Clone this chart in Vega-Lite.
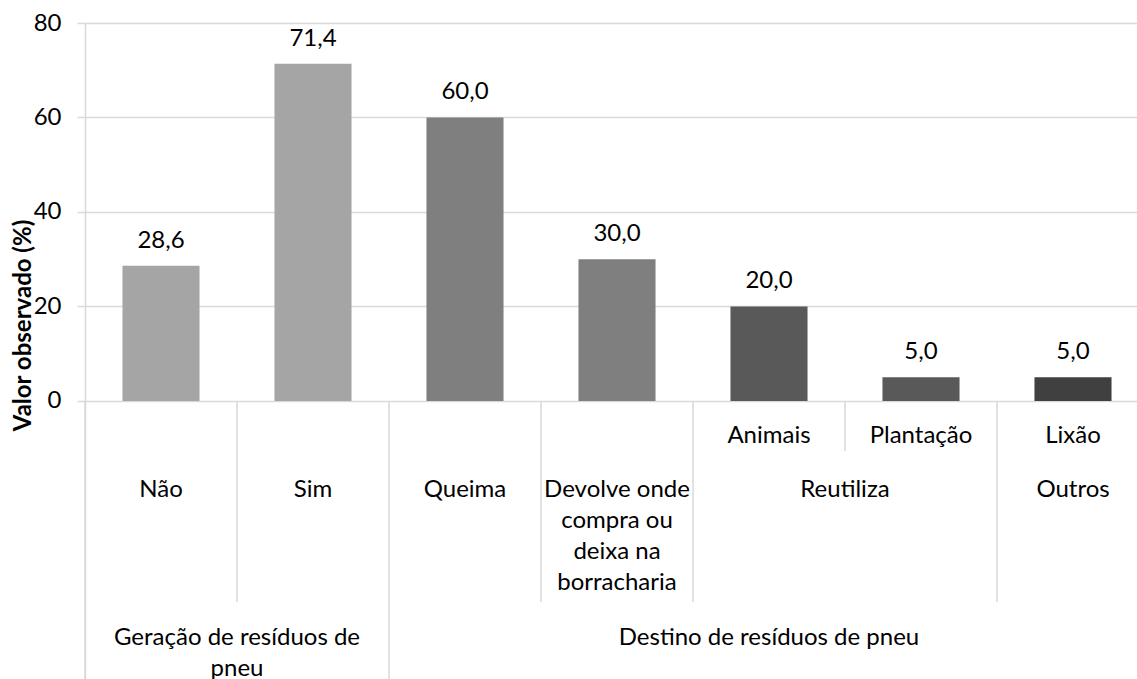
{
  "$schema": "https://vega.github.io/schema/vega-lite/v6.json",
  "width": 1052,
  "height": 656,
  "autosize": {"type": "none"},
  "padding": {"left": 85, "top": 23, "right": 0, "bottom": 0},
  "background": "white",
  "config": {
    "locale": {"number": {"decimal": ",", "thousands": ".", "grouping": [3], "currency": ["R$ ", ""]}},
    "view": {"stroke": null},
    "font": "Lato"
  },
  "datasets": {
    "valores": [
      {"cat": "Não", "valor": 28.6},
      {"cat": "Sim", "valor": 71.4},
      {"cat": "Queima", "valor": 60.0},
      {"cat": "Devolve", "valor": 30.0},
      {"cat": "Animais", "valor": 20.0},
      {"cat": "Plantação", "valor": 5.0},
      {"cat": "Lixão", "valor": 5.0}
    ],
    "rotulos_centro": [
      {"cat": "Animais", "nivel": 1, "texto": "Animais"},
      {"cat": "Plantação", "nivel": 1, "texto": "Plantação"},
      {"cat": "Lixão", "nivel": 1, "texto": "Lixão"},
      {"cat": "Não", "nivel": 2, "texto": "Não"},
      {"cat": "Sim", "nivel": 2, "texto": "Sim"},
      {"cat": "Queima", "nivel": 2, "texto": "Queima"},
      {"cat": "Devolve", "nivel": 2, "texto": "Devolve onde\ncompra ou\ndeixa na\nborracharia"},
      {"cat": "Lixão", "nivel": 2, "texto": "Outros"},
      {"cat": "Animais", "nivel": 3, "texto": "Destino de resíduos de pneu"}
    ],
    "rotulos_divisa": [
      {"cat": "Plantação", "nivel": 2, "texto": "Reutiliza"},
      {"cat": "Sim", "nivel": 3, "texto": "Geração de resíduos de\npneu"}
    ],
    "divisorias": [
      {"cat": "Não", "de": 0, "ate": 4},
      {"cat": "Sim", "de": 0, "ate": 2.5},
      {"cat": "Queima", "de": 0, "ate": 4},
      {"cat": "Devolve", "de": 0, "ate": 2.5},
      {"cat": "Animais", "de": 0, "ate": 2.5},
      {"cat": "Plantação", "de": 0, "ate": 1.5},
      {"cat": "Lixão", "de": 0, "ate": 2.5}
    ]
  },
  "resolve": {"scale": {"y": "independent"}},
  "layer": [
    {
      "data": {"name": "valores"},
      "encoding": {
        "x": {
          "field": "cat", "type": "nominal",
          "scale": {"domain": ["Não", "Sim", "Queima", "Devolve", "Animais", "Plantação", "Lixão"], "range": [0, 1064], "paddingInner": 0, "paddingOuter": 0},
          "axis": null
        },
        "y": {
          "field": "valor", "type": "quantitative",
          "scale": {"domain": [-58.84, 80], "nice": false, "zero": false},
          "axis": {
            "values": [0, 20, 40, 60, 80],
            "title": "Valor observado (%)",
            "titleFont": "Lato", "titleFontSize": 24, "titleFontWeight": "bold", "titleColor": "#000000",
            "titleX": -62, "titleY": 302, "titleAngle": 270, "titleAlign": "center", "titleBaseline": "middle",
            "labelFont": "Lato", "labelFontSize": 24, "labelColor": "#000000", "labelPadding": 16,
            "tickSize": 8, "tickColor": "#d9d9d9", "tickWidth": 1.5,
            "domainColor": "#d9d9d9", "domainWidth": 1.5,
            "grid": true, "gridColor": "#d9d9d9", "gridWidth": 1.5
          }
        }
      },
      "layer": [
        {
          "mark": {"type": "bar", "width": {"band": 0.507}},
          "encoding": {
            "y2": {"datum": 0},
            "color": {
              "field": "cat", "type": "nominal",
              "scale": {"domain": ["Não", "Sim", "Queima", "Devolve", "Animais", "Plantação", "Lixão"], "range": ["#a5a5a5", "#a5a5a5", "#7f7f7f", "#7f7f7f", "#595959", "#595959", "#404040"]},
              "legend": null
            }
          }
        },
        {
          "mark": {"type": "text", "font": "Lato", "fontSize": 24, "color": "#000000", "baseline": "middle", "dy": -25},
          "encoding": {"text": {"field": "valor", "type": "quantitative", "format": ".1f"}}
        }
      ]
    },
    {
      "layer": [
        {
          "data": {"name": "divisorias"},
          "mark": {"type": "rule", "color": "#d9d9d9", "strokeWidth": 1.5},
          "encoding": {
            "x": {"field": "cat", "type": "nominal", "bandPosition": 0},
            "y": {
              "field": "de", "type": "quantitative",
              "scale": {"domain": [0, 1, 1.5, 2, 2.5, 3, 4], "range": [378, 401, 428, 455, 579, 603, 656], "nice": false, "zero": false},
              "axis": null
            },
            "y2": {"field": "ate"}
          }
        },
        {
          "data": {"name": "rotulos_centro"},
          "mark": {"type": "text", "font": "Lato", "fontSize": 24, "color": "#000000", "align": "center", "baseline": "top", "lineHeight": 31, "lineBreak": "\n"},
          "encoding": {
            "x": {"field": "cat", "type": "nominal", "bandPosition": 0.5},
            "y": {"field": "nivel", "type": "quantitative"},
            "text": {"field": "texto", "type": "nominal"}
          }
        },
        {
          "data": {"name": "rotulos_divisa"},
          "mark": {"type": "text", "font": "Lato", "fontSize": 24, "color": "#000000", "align": "center", "baseline": "top", "lineHeight": 31, "lineBreak": "\n"},
          "encoding": {
            "x": {"field": "cat", "type": "nominal", "bandPosition": 0},
            "y": {"field": "nivel", "type": "quantitative"},
            "text": {"field": "texto", "type": "nominal"}
          }
        }
      ]
    }
  ]
}
